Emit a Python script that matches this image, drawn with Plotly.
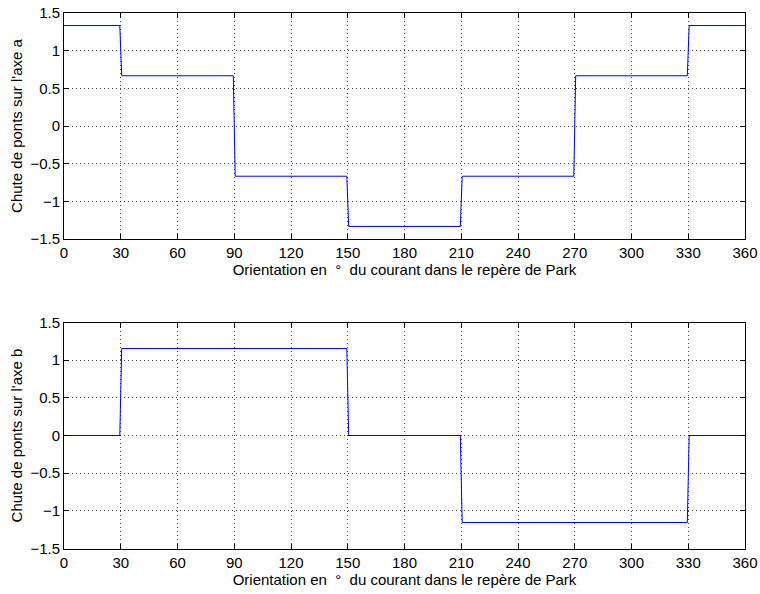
import plotly.graph_objects as go

# Top subplot: voltage drop on axis a (step values)
angle_a = [0, 29.5, 30.5, 89.5, 90.5, 149.5, 150.5, 209.5, 210.5, 269.5, 270.5, 329.5, 330.5, 360]
drop_a = [1.3333, 1.3333, 0.6667, 0.6667, -0.6667, -0.6667, -1.3333, -1.3333,
          -0.6667, -0.6667, 0.6667, 0.6667, 1.3333, 1.3333]

# Bottom subplot: voltage drop on axis b
angle_b = [0, 29.5, 30.5, 149.5, 150.5, 209.5, 210.5, 329.5, 330.5, 360]
drop_b = [0, 0, 1.1547, 1.1547, 0, 0, -1.1547, -1.1547, 0, 0]

x_ticks = [0, 30, 60, 90, 120, 150, 180, 210, 240, 270, 300, 330, 360]
y_ticks = [-1.5, -1, -0.5, 0, 0.5, 1, 1.5]
y_ticktext = ["\u22121.5", "\u22121", "\u22120.5", "0", "0.5", "1", "1.5"]

x_title = "Orientation en\u00a0\u00a0\u00b0\u00a0\u00a0du courant dans le rep\u00e8re de Park"
y_title_a = "Chute de ponts sur l'axe a"
y_title_b = "Chute de ponts sur l'axe b"

W, H = 760, 594

def fx(px):
    return px / W

def fy(py):
    return 1 - py / H

fig = go.Figure()
fig.add_trace(go.Scatter(x=angle_a, y=drop_a, mode="lines",
                         line=dict(color="#0000ff", width=1), xaxis="x", yaxis="y"))
fig.add_trace(go.Scatter(x=angle_b, y=drop_b, mode="lines",
                         line=dict(color="#0000ff", width=1), xaxis="x2", yaxis="y2"))

font = dict(family="Liberation Sans, Arial, sans-serif", size=15, color="black")

def xax(domain, anchor):
    return dict(domain=domain, anchor=anchor, range=[0, 360], tickvals=x_ticks,
                ticks="inside", ticklen=5, tickcolor="black", showline=True, linecolor="black",
                linewidth=1, mirror="ticks", showgrid=True, gridcolor="rgba(0,0,0,0.7)",
                griddash="1px,3px", gridwidth=1, zeroline=False, automargin=False,
                title=dict(text=x_title, font=font, standoff=0), tickfont=font)

def yax(domain, anchor, title):
    return dict(domain=domain, anchor=anchor, range=[-1.5, 1.5], tickvals=y_ticks,
                ticktext=y_ticktext,
                ticks="inside", ticklen=5, tickcolor="black", showline=True, linecolor="black",
                linewidth=1, mirror="ticks", showgrid=True, gridcolor="rgba(0,0,0,0.7)",
                griddash="1px,3px", gridwidth=1, zeroline=False, automargin=False,
                title=dict(text=title, font=font, standoff=4), tickfont=font)

xd = [fx(64), fx(745)]
fig.update_layout(
    width=W, height=H, showlegend=False,
    margin=dict(l=0, r=0, t=0, b=0),
    paper_bgcolor="white", plot_bgcolor="white", font=font,
    xaxis=xax(xd, "y"),
    yaxis=yax([fy(239), fy(13)], "x", y_title_a),
    xaxis2=xax(xd, "y2"),
    yaxis2=yax([fy(548.5), fy(322.5)], "x2", y_title_b),
)
fig.write_html("out.html",
               config={"displayModeBar": False},
               post_script="document.body.style.margin='0';document.body.style.overflow='hidden';")
